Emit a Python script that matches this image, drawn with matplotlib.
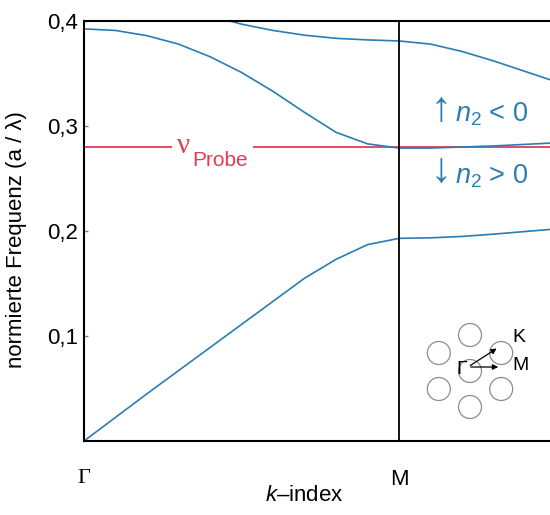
import numpy as np
import matplotlib
matplotlib.use('Agg')
import matplotlib.pyplot as plt
from matplotlib.patches import Circle

plt.rcParams['font.family'] = ['Liberation Sans', 'DejaVu Sans']
plt.rcParams['mathtext.fontset'] = 'custom'
plt.rcParams['mathtext.rm'] = 'Liberation Sans'
plt.rcParams['mathtext.it'] = 'Liberation Sans:italic'

# k path: Gamma=0, M=1, beyond M towards K
k_band = [0.0, 0.1, 0.2, 0.3, 0.4, 0.5, 0.6, 0.7, 0.8, 0.9, 1.0,
          1.1, 1.2, 1.3, 1.4, 1.5]
band1 = [0.0, 0.0225, 0.045, 0.067, 0.089, 0.111, 0.133, 0.155, 0.173, 0.187, 0.193,
         0.1935, 0.1948, 0.197, 0.1995, 0.202]
band2 = [0.3925, 0.391, 0.386, 0.378, 0.366, 0.351, 0.333, 0.313, 0.294, 0.283, 0.279,
         0.279, 0.280, 0.281, 0.2825, 0.284]
k_band3 = [0.4, 0.5, 0.6, 0.7, 0.8, 0.9, 1.0, 1.1, 1.2, 1.3, 1.4, 1.5]
band3 = [0.405, 0.397, 0.391, 0.3865, 0.3835, 0.382, 0.381, 0.378, 0.371, 0.362, 0.352, 0.342]

nu_probe = 0.28
probe_gap = [0.28, 0.535]   # where the label interrupts the line
k_ticks = [0.0, 1.0]
k_labels = ['Γ', 'M']
f_ticks = [0.1, 0.2, 0.3, 0.4]
f_labels = ['0,1', '0,2', '0,3', '0,4']

blue = '#2a7db3'
red = '#e23c58'

fig = plt.figure(figsize=(5.5, 5.15), dpi=100)
ax = fig.add_axes([84 / 550, 74 / 515, 466 / 550, 420 / 515])
xmax = 466 / 315

ax.plot(k_band, band1, color=blue, lw=1.2)
ax.plot(k_band, band2, color=blue, lw=1.2)
ax.plot(k_band3, band3, color=blue, lw=1.2)
ax.hlines(nu_probe, 0, probe_gap[0], color=red, lw=1.3, zorder=1)
ax.hlines(nu_probe, probe_gap[1], xmax, color=red, lw=1.3, zorder=1)
ax.axvline(k_ticks[1], color='black', lw=1.3)

ax.set_xlim(0, xmax)
ax.set_ylim(0, 0.4)
ax.spines['right'].set_visible(False)
for s in ['left', 'bottom', 'top']:
    ax.spines[s].set_linewidth(1.5)

ax.set_yticks(f_ticks)
ax.set_yticklabels(f_labels, fontsize=16)
ax.tick_params(axis='y', direction='in', length=3, width=1, color='gray', pad=4)
ax.set_xticks(k_ticks)
ax.set_xticklabels(k_labels, fontsize=16)
ax.tick_params(axis='x', length=0, pad=20)
ax.get_xticklabels()[0].set_family(['Liberation Serif', 'DejaVu Serif'])

ax.set_ylabel('normierte Frequenz (a / λ)', fontsize=16)
ax.yaxis.set_label_coords(-0.122, 0.479)
ax.set_xlabel('$k$–index', fontsize=16)
ax.xaxis.set_label_coords(0.472, -0.105)

# probe frequency label
ax.text(0.296, nu_probe + 0.001, 'ν', color=red, fontsize=21,
        family=['Liberation Serif', 'DejaVu Serif'], ha='left', va='center')
ax.text(0.343, nu_probe - 0.0181, 'Probe', color=red, fontsize=15, ha='left', va='baseline')

# refractive index regions
ax.text(1.100, 0.3048, '↑', color=blue, fontsize=30, family='Liberation Sans',
        ha='left', va='baseline')
ax.text(1.178, 0.304, '$\\mathit{n}_2$ < 0', color=blue, fontsize=19.5,
        ha='left', va='baseline')
ax.text(1.100, 0.2465, '↓', color=blue, fontsize=30, family='Liberation Sans',
        ha='left', va='baseline')
ax.text(1.178, 0.2454, '$\\mathit{n}_2$ > 0', color=blue, fontsize=19.5,
        ha='left', va='baseline')

# inset: hexagonal lattice with Gamma->K and Gamma->M
ins = fig.add_axes([420 / 550, 95 / 515, 115 / 550, 110 / 515])
ins.set_xlim(0, 115)
ins.set_ylim(0, 110)
ins.axis('off')
cx, cy, d, r = 50, 49, 36, 11.5
angles = [0, 90, 30, -30, -90, 150, 210]
for i, a in enumerate(angles):
    dist = 0 if i == 0 else d
    x = cx + dist * np.cos(np.radians(a))
    y = cy + dist * np.sin(np.radians(a))
    ins.add_patch(Circle((x, y), r, facecolor='none', edgecolor='#8c8c8c', lw=0.9))
ins.annotate('', xy=(79, 73), xytext=(48, 53),
             arrowprops=dict(arrowstyle='-|>', color='black', lw=0.9, mutation_scale=8))
ins.annotate('', xy=(81, 53), xytext=(48, 53),
             arrowprops=dict(arrowstyle='-|>', color='black', lw=0.9, mutation_scale=8))
ins.text(42, 51, 'Γ', fontsize=14, ha='center', va='center')
ins.text(99, 82, 'K', fontsize=14, ha='center', va='center')
ins.text(100.5, 54, 'M', fontsize=14, ha='center', va='center')

fig.savefig('out.png', dpi=100)
